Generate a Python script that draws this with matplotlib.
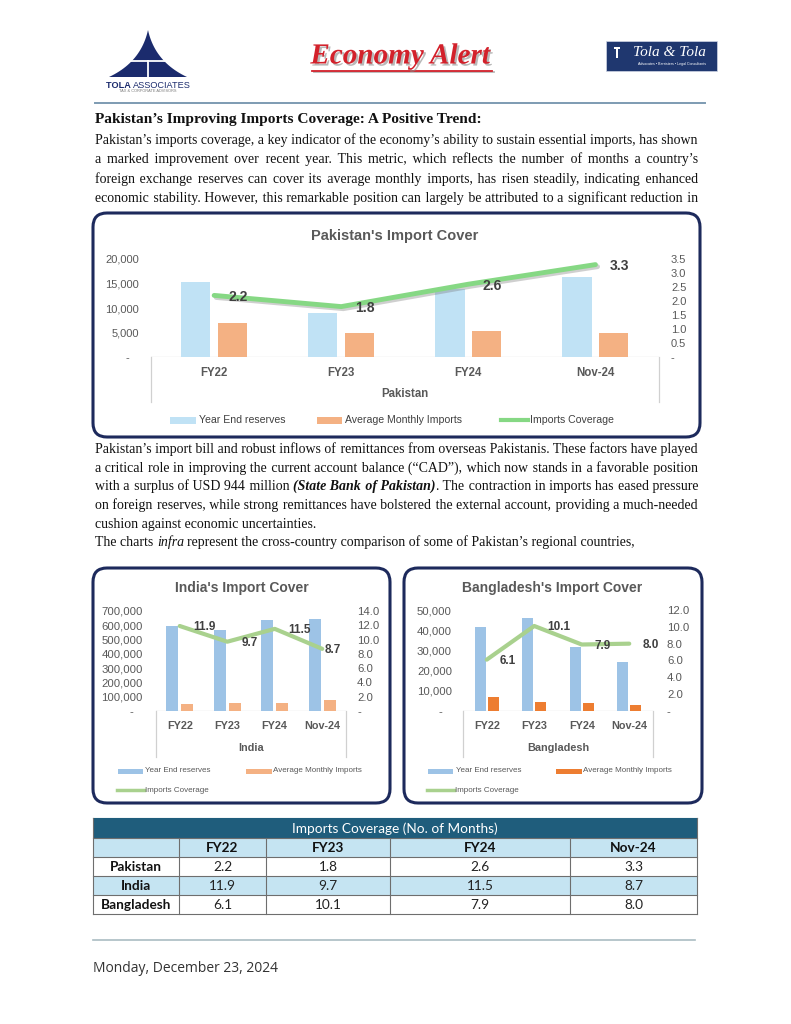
import numpy as np
import matplotlib
matplotlib.use("Agg")
import matplotlib.pyplot as plt
from matplotlib.patches import Rectangle, FancyBboxPatch, Polygon
import matplotlib.patheffects as pe
from matplotlib.transforms import blended_transform_factory

# ---------------- data ----------------
categories = ["FY22", "FY23", "FY24", "Nov-24"]
countries = ["Pakistan", "India", "Bangladesh"]
series_names = ["Year End reserves", "Average Monthly Imports", "Imports Coverage"]

pak_reserves = [15400, 9000, 13900, 16400]
pak_imports = [7000, 4900, 5300, 4950]
pak_coverage = [2.2, 1.8, 2.6, 3.3]

ind_reserves = [595000, 567000, 637000, 644000]
ind_imports = [50000, 58500, 55400, 74000]
ind_coverage = [11.9, 9.7, 11.5, 8.7]

bd_reserves = [41600, 46000, 31700, 24300]
bd_imports = [6800, 4550, 4000, 3050]
bd_coverage = [6.1, 10.1, 7.9, 8.0]

table_title = "Imports Coverage (No. of Months)"
heading = "Pakistan’s Improving Imports Coverage: A Positive Trend:"
para1 = [
    "Pakistan’s imports coverage, a key indicator of the economy’s ability to sustain essential imports, has shown",
    "a marked improvement over recent year. This metric, which reflects the number of months a country’s",
    "foreign exchange reserves can cover its average monthly imports, has risen steadily, indicating enhanced",
    "economic stability. However, this remarkable position can largely be attributed to a significant reduction in",
]
para2 = [
    "Pakistan’s import bill and robust inflows of remittances from overseas Pakistanis. These factors have played",
    "a critical role in improving the current account balance (“CAD”), which now stands in a favorable position",
    "with a surplus of USD 944 million *(State Bank of Pakistan)*. The contraction in imports has eased pressure",
    "on foreign reserves, while strong remittances have bolstered the external account, providing a much-needed",
    "cushion against economic uncertainties.",
    "The charts _infra_ represent the cross-country comparison of some of Pakistan’s regional countries,",
]
para2_justify = [True, True, True, True, False, False]
date_text = "Monday, December 23, 2024"

# ---------------- figure ----------------
W, H = 791, 1024
fig = plt.figure(figsize=(W / 100, H / 100), dpi=100)
ov = fig.add_axes([0, 0, 1, 1])
ov.set_xlim(0, W)
ov.set_ylim(H, 0)
ov.axis("off")
renderer = fig.canvas.get_renderer()

SERIF = ["Liberation Serif", "DejaVu Sans"]
SANS = "Liberation Sans"
GREY = "#595959"
HAIR = "\u200a"


def style_kw(st):
    return dict(fontweight="bold" if "b" in st else "normal",
                fontstyle="italic" if "i" in st else "normal")


def tw(s, size, st="", family=SERIF):
    t = ov.text(0, 0, s, fontsize=size, family=family, **style_kw(st))
    w = t.get_window_extent(renderer).width
    t.remove()
    return w


def parse_line(line):
    tokens, cur = [], []
    state = {"buf": "", "st": ""}

    def flush():
        if state["buf"]:
            cur.append((state["buf"], state["st"]))
            state["buf"] = ""

    for ch in line:
        if ch in "*_":
            flush()
            tag = "bi" if ch == "*" else "i"
            state["st"] = "" if state["st"] == tag else tag
        elif ch == " ":
            flush()
            if cur:
                tokens.append(list(cur))
                cur.clear()
        else:
            state["buf"] += ch
    flush()
    if cur:
        tokens.append(list(cur))
    return tokens


def natural_width(line, size):
    toks = parse_line(line)
    sp = tw("a a", size) - tw("aa", size)
    return sum(tw(s, size, st) for tok in toks for s, st in tok) + sp * (len(toks) - 1)


def draw_line(line, x0, x1, y, size, justify, color="#111111"):
    """Justified line; each same-style run is ONE text object so the baseline stays even."""
    toks = parse_line(line)
    widths = [sum(tw(s, size, st) for s, st in tok) for tok in toks]
    sp = tw("a a", size) - tw("aa", size)
    hair = (tw("a" + HAIR * 10 + "a", size) - tw("aa", size)) / 10.0
    gap = (x1 - x0 - sum(widths)) / (len(toks) - 1) if (justify and len(toks) > 1) else sp
    targets = []
    x = x0
    for w in widths:
        targets.append(x)
        x += w + gap

    runs = []  # [style, start_x, text]
    for tok, tx in zip(toks, targets):
        for k, (seg, st) in enumerate(tok):
            if k == 0:
                if runs and runs[-1][0] == st:
                    r = runs[-1]
                    want = tx - r[1] + tw(seg, size, st)
                    n0 = max(0, int(round((tx - (r[1] + tw(r[2], size, st)) - sp) / hair)))
                    best = None
                    for n in range(max(0, n0 - 2), n0 + 3):
                        cand = r[2] + " " + HAIR * n + seg
                        err = abs(tw(cand, size, st) - want)
                        if best is None or err < best[0]:
                            best = (err, cand)
                    r[2] = best[1]
                else:
                    runs.append([st, tx, seg])
            else:
                r = runs[-1]
                if r[0] == st:
                    r[2] += seg
                else:
                    runs.append([st, r[1] + tw(r[2], size, r[0]), seg])
    for st, sx, text in runs:
        ov.text(sx, y, text, fontsize=size, family=SERIF, va="baseline", ha="left",
                color=color, **style_kw(st))


# ---------------- header ----------------
tt = np.linspace(0, 1, 25)[:, None]
apex = np.array([148, 30.0])
Lc = np.array([109, 77.0])
Rc = np.array([187, 77.0])
cl = np.array([141, 62.0])
cr = np.array([155, 62.0])
left_edge = (1 - tt) ** 2 * apex + 2 * (1 - tt) * tt * cl + tt ** 2 * Lc
right_edge = (1 - tt) ** 2 * Rc + 2 * (1 - tt) * tt * cr + tt ** 2 * apex
ov.add_patch(Polygon(np.vstack([left_edge, right_edge]), closed=True, fc="#1b2b6d", ec="none"))
ov.plot([121, 175], [61, 61], color="white", lw=1.3)
ov.plot([148, 148], [61, 77], color="white", lw=1.3)
w_tola = tw("TOLA ", 6.6, "b", SANS)
w_assoc = tw("ASSOCIATES", 6.6, "", SANS)
x_start = 148 - (w_tola + w_assoc) / 2
ov.text(x_start, 85, "TOLA ", fontsize=6.6, family=SANS, fontweight="bold", color="#1b2b6d",
        va="center", ha="left")
ov.text(x_start + w_tola, 85, "ASSOCIATES", fontsize=6.6, family=SANS, color="#1b2b6d",
        va="center", ha="left")
ov.text(148, 91.5, "TAX & CORPORATE ADVISORS", fontsize=2.8, family=SANS, color="#777777",
        va="center", ha="center")

ov.text(400, 56, "Economy Alert", fontsize=21, family="Liberation Serif", fontstyle="italic",
        fontweight="bold", color="#d3212b", ha="center", va="center",
        path_effects=[pe.SimplePatchShadow(offset=(1.5, -1.5), shadow_rgbFace="#8a8a8a", alpha=0.6),
                      pe.Normal()])
ov.plot([312, 492], [70.5, 70.5], color="#d3212b", lw=1.3,
        path_effects=[pe.SimpleLineShadow(offset=(1.2, -1.2), shadow_color="#888888", alpha=0.6),
                      pe.Normal()])

ov.add_patch(Rectangle((606, 41), 111, 30, fc="#1f376f", ec="#cfd6e4", lw=0.5))
ov.text(669, 53, "Tola & Tola", fontsize=11, family="Liberation Serif", fontstyle="italic",
        color="white", ha="center", va="center")
ov.text(672, 64, "Advocates • Barristers • Legal Consultants", fontsize=2.6, family=SANS,
        color="white", ha="center", va="center")
ov.add_patch(Rectangle((614, 47), 6, 1.5, fc="white", ec="none"))
ov.add_patch(Rectangle((616, 48.5), 2, 9, fc="white", ec="none"))

ov.plot([95, 705], [103, 103], color="#7d9bb2", lw=1.4)

# ---------------- body text ----------------
base_size = 10.0
justified_lines = para1 + [l for l, j in zip(para2, para2_justify) if j]
maxw = max(natural_width(l, base_size) for l in justified_lines)
body_size = base_size * 601.0 / maxw
X0, X1 = 95, 698

head_size = 10.0 * 388.0 / tw(heading, 10.0, "b")
ov.text(X0, 123, heading, fontsize=head_size, family=SERIF, fontweight="bold", color="#111111",
        va="baseline", ha="left")

p1_base = [144, 163, 183, 202]
p2_base = [453, 472, 490, 509, 528, 546]
for line, yb in zip(para1, p1_base):
    draw_line(line, X0, X1, yb, body_size, True)
for line, j, yb in zip(para2, para2_justify, p2_base):
    draw_line(line, X0, X1, yb, body_size, j)


# ---------------- charts ----------------
def rect(x0, y0, x1, y1):
    return [x0 / W, 1 - y1 / H, (x1 - x0) / W, (y1 - y0) / H]


def fmt_left(v):
    return "-   " if v == 0 else f"{int(v):,}"


def fmt_right(v):
    return "-" if v == 0 else f"{v:.1f}"


def draw_chart(cfg, country, res, imp, cov):
    bx0, by0, bx1, by1 = cfg["box"]
    ov.add_patch(FancyBboxPatch((bx0, by0), bx1 - bx0, by1 - by0,
                                boxstyle="round,pad=0,rounding_size=14",
                                fc="white", ec="#1d2a5c", lw=2.2, zorder=1))
    tx, ty = cfg["title_xy"]
    ov.text(tx, ty, cfg["title"], fontsize=cfg["title_size"], family=SANS, fontweight="bold",
            color=GREY, ha="center", va="center", zorder=3)

    px0, py0, px1, py1 = cfg["plot"]
    ax = fig.add_axes(rect(px0, py0, px1, py1))
    ax.set_facecolor("none")
    x = np.arange(len(categories))
    ax.bar(x - cfg["off"], res, cfg["bw"], color=cfg["colors"][0], zorder=2)
    ax.bar(x + cfg["off"], imp, cfg["bw"], color=cfg["colors"][1], zorder=2)
    ax.set_xlim(-0.5, len(categories) - 0.5)
    ax.set_ylim(0, cfg["ymax"])
    yt = np.arange(0, cfg["ymax"] + 1e-9, cfg["ystep"])
    ax.set_yticks(yt)
    ax.set_yticklabels([fmt_left(v) for v in yt], fontsize=cfg["tick_size"], family=SANS, color=GREY)
    ax.set_xticks([])
    ax.tick_params(axis="y", length=0, pad=cfg["lpad"])
    for s in ax.spines.values():
        s.set_visible(False)
    ax.axhline(0, color="#d0d0d0", lw=0.9, zorder=1)

    ph = py1 - py0
    ext = (cfg["axis_bottom"] - py1) / ph
    for xa in (0, 1):
        ax.plot([xa, xa], [0, -ext], transform=ax.transAxes, clip_on=False, color="#d0d0d0", lw=0.9)
    bt = blended_transform_factory(ax.transData, ax.transAxes)
    for i, c in enumerate(categories):
        ax.text(i, -(cfg["cat_y"] - py1) / ph, c, transform=bt, ha="center", va="center",
                fontsize=cfg["cat_size"], family=SANS, fontweight="bold", color=GREY)
    ax.text(0.5, -(cfg["country_y"] - py1) / ph, country, transform=ax.transAxes, ha="center",
            va="center", fontsize=cfg["cat_size"], family=SANS, fontweight="bold", color=GREY)

    ax2 = ax.twinx()
    effects = [pe.SimpleLineShadow(offset=(1.5, -1.5), shadow_color="#777777", alpha=0.35),
               pe.Normal()] if cfg["shadow"] else None
    ax2.plot(x, cov, color=cfg["colors"][2], lw=cfg["lw"], solid_capstyle="round",
             path_effects=effects, zorder=3)
    ax2.set_ylim(0, cfg["rmax"])
    rt = np.arange(0, cfg["rmax"] + 1e-9, cfg["rstep"])
    ax2.set_yticks(rt)
    ax2.set_yticklabels([fmt_right(v) for v in rt], fontsize=cfg["tick_size"], family=SANS, color=GREY)
    ax2.tick_params(axis="y", length=0, pad=cfg["rpad"])
    ax2.set_xlim(-0.5, len(categories) - 0.5)
    for s in ax2.spines.values():
        s.set_visible(False)
    for i, v in enumerate(cov):
        ax2.annotate(f"{v:.1f}", (i, v), xytext=(cfg["lab_off"][i], -1), textcoords="offset points",
                     ha="left", va="center", fontsize=cfg["lab_size"], family=SANS,
                     fontweight="bold", color="#404040", zorder=4)

    for k, (kind, lx0, lx1, ly, tx0) in enumerate(cfg["legend"]):
        if kind == "line":
            ov.plot([lx0, lx1], [ly, ly], color=cfg["colors"][2], lw=cfg["leg_lw"], zorder=3)
        else:
            hh = cfg["leg_h"]
            ov.add_patch(Rectangle((lx0, ly - hh / 2), lx1 - lx0, hh, fc=cfg["colors"][k],
                                   ec="none", zorder=3))
        ov.text(tx0, ly, series_names[k], fontsize=cfg["leg_size"], family=SANS, color=cfg["leg_color"],
                ha="left", va="center", zorder=3)


pak_cfg = dict(box=(93, 213, 700, 437), title="Pakistan's Import Cover", title_xy=(395, 236),
               title_size=10.5, plot=(150.6, 259, 659, 357), off=0.145, bw=0.23,
               colors=["#c0e2f5", "#f4b183", "#86d884"], ymax=20000, ystep=5000, rmax=3.5, rstep=0.5,
               tick_size=8, lpad=8.4, rpad=8.6, axis_bottom=402, cat_y=373, country_y=394,
               cat_size=8.3, shadow=True, lw=3.5, lab_size=10, lab_off=[10, 10, 10, 10],
               legend=[("patch", 170, 196, 420, 199), ("patch", 317, 342, 420, 345),
                       ("line", 501, 528, 420, 530)],
               leg_h=7, leg_lw=3, leg_size=7.6, leg_color="#404040")

ind_cfg = dict(box=(93, 568, 390, 803), title="India's Import Cover", title_xy=(242, 588),
               title_size=10, plot=(156, 611, 346, 711), off=0.155, bw=0.25,
               colors=["#9dc3e6", "#f4b183", "#a9d18e"], ymax=700000, ystep=100000, rmax=14, rstep=2,
               tick_size=8.2, lpad=9.4, rpad=8, axis_bottom=757, cat_y=726, country_y=748,
               cat_size=7.8, shadow=False, lw=3, lab_size=8.5, lab_off=[10, 10, 10, 2],
               legend=[("patch", 118, 143, 771, 145), ("patch", 246, 272, 771, 273),
                       ("line", 117, 144, 790, 145)],
               leg_h=5, leg_lw=2.5, leg_size=5.8, leg_color=GREY)

bd_cfg = dict(box=(404, 568, 702, 803), title="Bangladesh's Import Cover", title_xy=(552, 588),
              title_size=10, plot=(463, 610, 653, 711), off=0.14, bw=0.23,
              colors=["#9dc3e6", "#ed7d31", "#a9d18e"], ymax=50000, ystep=10000, rmax=12, rstep=2,
              tick_size=8.2, lpad=8, rpad=10, axis_bottom=757, cat_y=726, country_y=748,
              cat_size=7.8, shadow=False, lw=3, lab_size=8.5, lab_off=[9.5, 9.5, 9.5, 9.5],
              legend=[("patch", 428, 453, 771, 456), ("patch", 556, 582, 771, 583),
                      ("line", 427, 454, 790, 455)],
              leg_h=5, leg_lw=2.5, leg_size=5.8, leg_color=GREY)

draw_chart(pak_cfg, countries[0], pak_reserves, pak_imports, pak_coverage)
draw_chart(ind_cfg, countries[1], ind_reserves, ind_imports, ind_coverage)
draw_chart(bd_cfg, countries[2], bd_reserves, bd_imports, bd_coverage)

# ---------------- table ----------------
TFONT = "Lato"
cols = [93, 179, 266, 390, 570, 697]
rows = [818, 838, 857, 876, 895, 914]
ov.add_patch(Rectangle((cols[0], rows[0]), cols[-1] - cols[0], rows[1] - rows[0], fc="#1f5d7c", ec="none"))
ov.add_patch(Rectangle((cols[0], rows[1]), cols[-1] - cols[0], rows[2] - rows[1], fc="#c5e4f2", ec="none"))
ov.add_patch(Rectangle((cols[0], rows[3]), cols[-1] - cols[0], rows[4] - rows[3], fc="#c5e4f2", ec="none"))
LC = "#6e6e6e"
for yy in rows[1:]:
    ov.plot([cols[0], cols[-1]], [yy, yy], color=LC, lw=0.8)
ov.plot([cols[0], cols[-1]], [rows[0], rows[0]], color="#1f5d7c", lw=0.8)
for xx in cols:
    y_start = rows[0] if xx in (cols[0], cols[-1]) else rows[1]
    ov.plot([xx, xx], [y_start, rows[-1]], color=LC, lw=0.8)
ov.text((cols[0] + cols[-1]) / 2, (rows[0] + rows[1]) / 2 + 0.5, table_title, fontsize=9.8,
        family=TFONT, color="white", ha="center", va="center")
for j, c in enumerate(categories):
    ov.text((cols[j + 1] + cols[j + 2]) / 2, (rows[1] + rows[2]) / 2 + 0.5, c, fontsize=9.8,
            family=TFONT, fontweight="bold", color="#111111", ha="center", va="center")
for i, (name, vals) in enumerate(zip(countries, [pak_coverage, ind_coverage, bd_coverage])):
    yc = (rows[i + 2] + rows[i + 3]) / 2 + 0.5
    ov.text((cols[0] + cols[1]) / 2, yc, name, fontsize=9.8, family=TFONT, fontweight="bold",
            color="#111111", ha="center", va="center")
    for j, v in enumerate(vals):
        ov.text((cols[j + 1] + cols[j + 2]) / 2, yc, f"{v:.1f}", fontsize=9.8, family=TFONT,
                color="#222222", ha="center", va="center")

# ---------------- footer ----------------
ov.plot([93, 695], [940, 940], color="#aabcc2", lw=1.2)
ov.text(93, 968, date_text, fontsize=10, family="Open Sans", color="#333333", ha="left", va="center")

fig.savefig("out.png", dpi=100)
